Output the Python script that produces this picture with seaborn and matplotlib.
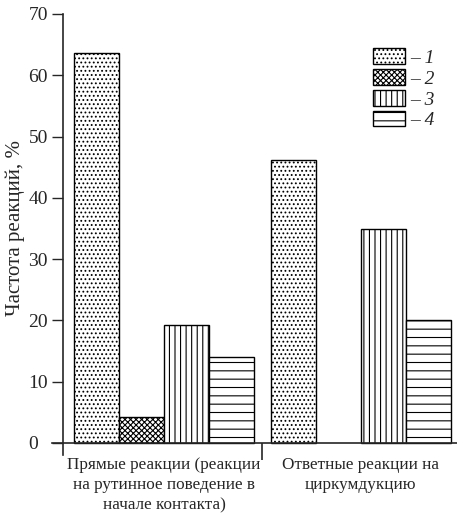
import matplotlib
matplotlib.use("Agg")
import matplotlib.pyplot as plt
import matplotlib.patches as mpatches
import seaborn as sns
import pandas as pd

groups = ["Прямые реакции (реакции\nна рутинное поведение в\nначале контакта)",
          "Ответные реакции на\nциркумдукцию"]
series = ["1", "2", "3", "4"]
values_1 = [63.7, 46.2]
values_2 = [4.2, 0.0]
values_3 = [19.2, 34.9]
values_4 = [14.0, 20.0]
hatches = ["....", "xxxxxx", "|||", "--"]
hatch_colors = ["#666666", "black", "black", "black"]

rows = []
for s, vals in zip(series, [values_1, values_2, values_3, values_4]):
    for g, v in zip(groups, vals):
        rows.append({"group": g, "series": s, "value": v})
df = pd.DataFrame(rows)

sns.set_style("ticks")
plt.rcParams["font.family"] = ["Liberation Serif", "DejaVu Serif"]
plt.rcParams["hatch.linewidth"] = 0.8

fig = plt.figure(figsize=(4.57, 5.14), dpi=100)
ax = fig.add_axes([52 / 457, 59 / 514, 405 / 457, (455 - 14) / 514])

sns.barplot(data=df, x="group", y="value", hue="series", order=groups,
            hue_order=series, palette=["white"] * 4, edgecolor="black",
            linewidth=1, width=0.914, gap=0, legend=False, ax=ax)


def apply_hatch(patch, h, hc):
    patch.set_hatch(h)
    if hasattr(patch, "set_hatchcolor"):
        patch.set_hatchcolor(hc)


for cont, h, hc in zip(ax.containers, hatches, hatch_colors):
    for bar in cont:
        apply_hatch(bar, h, hc)
        if bar.get_height() == 0:
            bar.set_visible(False)

ax.set_xlim(-0.57, 1.49)
ax.set_ylim(-2, 70)
ax.spines["left"].set_position(("data", -0.513))
ax.spines["bottom"].set_position(("data", 0))
ax.spines["left"].set_bounds(-2, 70)
ax.spines["right"].set_visible(False)
ax.spines["top"].set_visible(False)
for sp in ["left", "bottom"]:
    ax.spines[sp].set_linewidth(1.2)

ax.set_yticks(range(0, 71, 10))
ax.tick_params(axis="y", direction="out", length=8, width=1, labelsize=14, pad=17)
for lab in ax.get_yticklabels():
    lab.set_horizontalalignment("left")
ax.set_xticks([0, 1])
ax.set_xticklabels(groups, fontsize=12.3, linespacing=1.35)
ax.tick_params(axis="x", length=0, pad=10)
ax.set_xticks([0.5], minor=True)
ax.tick_params(axis="x", which="minor", direction="out", length=12, width=1.2)
ax.set_xlabel("")
ax.set_ylabel("Частота реакций, %", fontsize=15)
ax.yaxis.set_label_coords(-0.067, 0.515)

handles = []
for h, hc in zip(hatches, hatch_colors):
    p = mpatches.Patch(facecolor="white", edgecolor="black")
    apply_hatch(p, h, hc)
    handles.append(p)
labels = ["– " + s for s in series]
fig.legend(handles, labels, loc="upper left", bbox_to_anchor=(355 / 457, 1 - 31 / 514),
           frameon=False, handlelength=1.65, handleheight=0.85, handletextpad=0.3,
           labelspacing=0.12, prop={"size": 14, "style": "italic"})

fig.savefig("out.png", dpi=100)
